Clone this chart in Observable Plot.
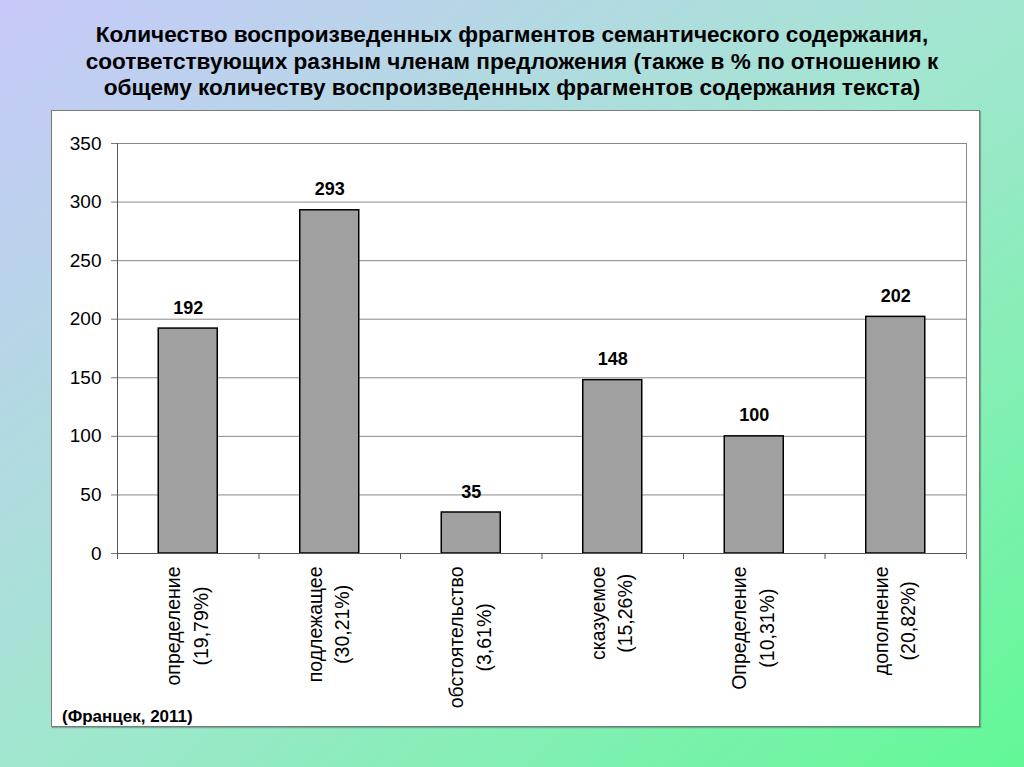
<!DOCTYPE html>
<html>
<head>
<meta charset="utf-8">
<script src="https://cdn.jsdelivr.net/npm/d3@7"></script>
<script src="https://cdn.jsdelivr.net/npm/@observablehq/plot@0.6"></script>
<style>
html, body { margin: 0; padding: 0; }
body {
  width: 1024px; height: 767px; overflow: hidden; position: relative;
  background: linear-gradient(to bottom right, #c8c8fa 0%, #a2e6d0 50%, #62f896 100%);
  font-family: "Liberation Sans", Arial, sans-serif; color: #000;
}
#title {
  position: absolute; left: 0; top: 22px; width: 1024px; text-align: center;
  font-weight: bold; font-size: 22.6px; line-height: 26.5px; white-space: nowrap;
}
#panel {
  position: absolute; left: 51px; top: 110px; width: 927px; height: 615px;
  background: #fff; border: 1px solid #7a7a7a; box-shadow: 1px 1px 1px rgba(0,0,0,0.25);
}
#chart { position: absolute; left: 51px; top: 110px; }
#caption {
  position: absolute; left: 62px; top: 707px; font-weight: bold; font-size: 17px; line-height: 19px;
}
</style>
</head>
<body>
<div id="title">Количество воспроизведенных фрагментов семантического содержания,<br>соответствующих разным членам предложения (также в % по отношению к<br>общему количеству воспроизведенных фрагментов содержания текста)</div>
<div id="panel"></div>
<div id="chart"></div>
<div id="caption">(Францек, 2011)</div>
<script>
const names = ["определение", "подлежащее", "обстоятельство", "сказуемое", "Определение", "дополнение"];
const percents = ["19,79%", "30,21%", "3,61%", "15,26%", "10,31%", "20,82%"];
const values = [192, 293, 35, 148, 100, 202];
const yTicks = [0, 50, 100, 150, 200, 250, 300, 350];

const data = names.map((n, i) => ({cat: n + i, name: n, pct: percents[i], value: values[i]}));
const cats = data.map(d => d.cat);

const W = 929, H = 617, mL = 66, mR = 14, mT = 33, mB = 174;
const step = (W - mL - mR) / cats.length;

const svg = Plot.plot({
  width: W, height: H,
  marginLeft: mL, marginRight: mR, marginTop: mT, marginBottom: mB,
  style: {background: "transparent", fontFamily: "'Liberation Sans', Arial, sans-serif", color: "#000"},
  x: {domain: cats, paddingInner: 0.583, paddingOuter: 0.2915, round: false, axis: null},
  y: {domain: [0, 350], axis: null},
  marks: [
    Plot.ruleY(yTicks.filter(d => d > 0), {stroke: "#8a8a8a", strokeWidth: 1}),
    Plot.ruleX([cats[cats.length - 1]], {y1: 350, y2: 0, dx: step / 2, insetBottom: -6, stroke: "#8a8a8a"}),
    Plot.ruleX(cats.slice(0, -1), {y1: 0, y2: 0, dx: step / 2, insetBottom: -6, stroke: "#555"}),
    Plot.barY(data, {x: "cat", y: "value", fill: "#a0a0a0", stroke: "#000", strokeWidth: 1.5}),
    Plot.ruleY([0], {stroke: "#555", strokeWidth: 1}),
    Plot.ruleX([cats[0]], {y1: 350, y2: 0, dx: -step / 2, insetBottom: -6, stroke: "#555"}),
    Plot.axisY(yTicks, {tickSize: 6, tickPadding: 10, fontSize: 19, stroke: "#777", fill: "#000", label: null}),
    Plot.text(data, {x: "cat", y: "value", text: d => String(d.value), dy: -15, lineAnchor: "bottom",
      fontSize: 18, fontWeight: "bold", fill: "#000"}),
    Plot.text(data, {x: "cat", text: d => d.name + "\n(" + d.pct + ")", frameAnchor: "bottom", dy: 13, dx: -3,
      rotate: -90, textAnchor: "end", lineAnchor: "middle", lineHeight: 1.42, fontSize: 19.5, fill: "#000",
      className: "xlab"})
  ]
});
document.getElementById("chart").appendChild(svg);

d3.select(svg).selectAll(".xlab text").each(function () {
  const tspans = d3.select(this).selectAll("tspan").nodes();
  const lens = tspans.map(t => t.getComputedTextLength());
  const L = Math.max(...lens);
  tspans.forEach((t, i) => t.setAttribute("x", -(L - lens[i]) / 2));
});
</script>
</body>
</html>
